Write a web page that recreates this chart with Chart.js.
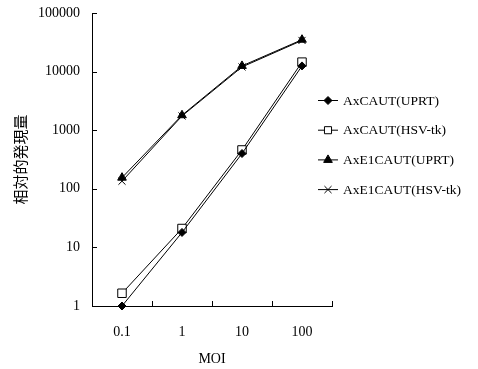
<!DOCTYPE html>
<html><head><meta charset="utf-8">
<script src="https://cdn.jsdelivr.net/npm/chart.js@4/dist/chart.umd.min.js"></script>
<style>html,body{margin:0;padding:0;background:#fff}#wrap{width:478px;height:369px}</style>
</head><body><div id="wrap"><canvas id="c"></canvas></div>
<script>
const categories = ['0.1', '1', '10', '100'];
const seriesNames = ['AxCAUT(UPRT)', 'AxCAUT(HSV-tk)', 'AxE1CAUT(UPRT)', 'AxE1CAUT(HSV-tk)'];
const axcautUPRT = [1, 18, 400, 12500];
const axcautHSV = [1.65, 21, 460, 14500];
const axe1cautUPRT = [155, 1800, 12500, 35000];
const axe1cautHSV = [135, 1750, 12000, 34000];
const yTickValues = [1, 10, 100, 1000, 10000, 100000];
const xTitle = 'MOI';
const yTitle = '相対的発現量';

const serif = "'Liberation Serif', 'Times New Roman', serif";
const styles = [
  {pointStyle: 'rectRot', radius: 4, bg: '#000'},
  {pointStyle: 'rect', radius: 6, bg: '#fff'},
  {pointStyle: 'triangle', radius: 5, bg: '#000'},
  {pointStyle: 'crossRot', radius: 5, bg: '#000'}
];
const values = [axcautUPRT, axcautHSV, axe1cautUPRT, axe1cautHSV];

const datasets = values.map((v, i) => ({
  label: seriesNames[i],
  data: v,
  borderColor: '#000',
  borderWidth: 1,
  backgroundColor: styles[i].bg,
  pointStyle: styles[i].pointStyle,
  pointRadius: styles[i].radius,
  pointBorderColor: '#000',
  pointBackgroundColor: styles[i].bg,
  pointBorderWidth: 1,
  tension: 0,
  clip: false
}));

const tickMarks = {
  id: 'tickMarks',
  afterDraw(chart) {
    const ctx = chart.ctx;
    const xs = chart.scales.x, ys = chart.scales.y;
    ctx.save();
    ctx.strokeStyle = '#000';
    ctx.lineWidth = 1;
    ctx.beginPath();
    ys.ticks.forEach((t, i) => {
      const y = Math.round(ys.getPixelForTick(i)) + 0.5;
      ctx.moveTo(xs.left, y); ctx.lineTo(xs.left + 5, y);
    });
    const n = categories.length;
    for (let i = 1; i <= n; i++) {
      const x = Math.round(xs.left + (xs.right - xs.left) * i / n) + 0.5;
      ctx.moveTo(x, ys.bottom); ctx.lineTo(x, ys.bottom - 5);
    }
    ctx.stroke();
    ctx.restore();
  }
};

const legendPlugin = {
  id: 'customLegend',
  afterDraw(chart) {
    const ctx = chart.ctx;
    const area = chart.chartArea;
    const x0 = area.right - 14;
    const y0 = 100, dy = 29.7;
    ctx.save();
    chart.data.datasets.forEach((ds, i) => {
      const y = y0 + i * dy;
      ctx.strokeStyle = '#000';
      ctx.lineWidth = 1;
      ctx.beginPath();
      ctx.moveTo(x0, y + 0.5); ctx.lineTo(x0 + 20, y + 0.5);
      ctx.stroke();
      ctx.fillStyle = ds.pointBackgroundColor;
      ctx.strokeStyle = '#000';
      Chart.helpers.drawPoint(ctx, {pointStyle: ds.pointStyle, radius: ds.pointRadius - (i === 1 ? 1 : 0), rotation: 0, borderWidth: 1}, x0 + 10, y + 0.5);
      ctx.fillStyle = '#000';
      ctx.font = "13.5px " + serif;
      ctx.textBaseline = 'middle';
      ctx.textAlign = 'left';
      ctx.fillText(ds.label, x0 + 25, y + 1);
    });
    ctx.restore();
  }
};

new Chart(document.getElementById('c'), {
  type: 'line',
  data: {labels: categories, datasets},
  plugins: [tickMarks, legendPlugin],
  options: {
    responsive: true,
    maintainAspectRatio: false,
    animation: false,
    layout: {autoPadding: false, padding: {top: 13, right: 146, left: 0, bottom: 0}},
    plugins: {legend: {display: false}, tooltip: {enabled: false}},
    scales: {
      x: {
        type: 'category',
        offset: true,
        afterFit(s) { s.height = 63; s.paddingLeft = 0; s.paddingRight = 0; },
        grid: {display: false, drawTicks: false},
        border: {display: true, color: '#000', width: 1},
        ticks: {color: '#000', font: {family: serif, size: 14}, padding: 18, maxRotation: 0},
        title: {display: true, text: xTitle, color: '#000', font: {family: serif, size: 14}, padding: 1}
      },
      y: {
        type: 'logarithmic',
        min: 1, max: 100000,
        afterFit(s) { s.width = 92; s.paddingTop = 0; s.paddingBottom = 0; },
        afterBuildTicks(s) { s.ticks = yTickValues.map(v => ({value: v})); },
        grid: {display: false, drawTicks: false},
        border: {display: true, color: '#000', width: 1},
        ticks: {color: '#000', font: {family: serif, size: 14}, padding: 12, callback: v => String(v)},
        title: {display: true, text: yTitle, color: '#000', font: {family: "'Noto Sans CJK JP', sans-serif", size: 15}, padding: 11}
      }
    }
  }
});
</script></body></html>
